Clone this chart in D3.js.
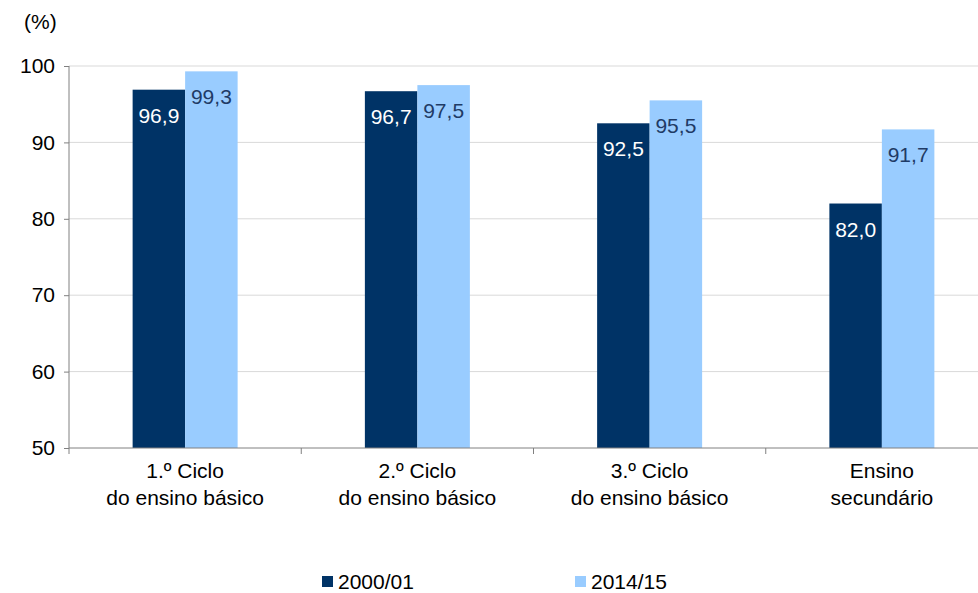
<!DOCTYPE html>
<meta charset="utf-8">
<head>
<style>
  body { margin: 0; background: #fff; }
  svg { display: block; font-family: "Liberation Sans", Arial, sans-serif; }
</style>
</head>
<body>
<script src="https://cdn.jsdelivr.net/npm/d3@7"></script>
<script>
// data
var categories = [["1.º Ciclo", "do ensino básico"], ["2.º Ciclo", "do ensino básico"], ["3.º Ciclo", "do ensino básico"], ["Ensino", "secundário"]];
var series = ["2000/01", "2014/15"];
var values2000 = [96.9, 96.7, 92.5, 82.0];
var values2014 = [99.3, 97.5, 95.5, 91.7];
var yTicks = [50, 60, 70, 80, 90, 100];

var colors = ["#003366", "#99ccff"];
var labelColors = ["#ffffff", "#1f3b66"];

var W = 978, H = 593;
var m = { left: 69, right: 998, top: 66, bottom: 448 };
var fs = "21px";

var svg = d3.select("body").append("svg")
    .attr("width", W)
    .attr("height", H);

var x = d3.scaleBand().domain(d3.range(categories.length)).range([m.left, m.right]);
var y = d3.scaleLinear().domain([50, 100]).range([m.bottom, m.top]);
var bw = 52.5;

// gridlines
svg.append("g").selectAll("line")
    .data(yTicks.slice(1))
    .enter().append("line")
    .attr("x1", m.left).attr("x2", m.right)
    .attr("y1", function(d) { return y(d); })
    .attr("y2", function(d) { return y(d); })
    .attr("stroke", "#d9d9d9")
    .attr("stroke-width", 1);

// bars
var data = [];
categories.forEach(function(c, i) {
    data.push({ i: i, s: 0, v: values2000[i] });
    data.push({ i: i, s: 1, v: values2014[i] });
});

function bx(d) {
    return x(d.i) + x.bandwidth() / 2 - bw + d.s * bw;
}

svg.append("g").selectAll("rect")
    .data(data)
    .enter().append("rect")
    .attr("x", bx)
    .attr("y", function(d) { return y(d.v); })
    .attr("width", bw)
    .attr("height", function(d) { return y(50) - y(d.v); })
    .attr("fill", function(d) { return colors[d.s]; });

svg.append("g").selectAll("text")
    .data(data)
    .enter().append("text")
    .attr("x", function(d) { return bx(d) + bw / 2; })
    .attr("y", function(d) { return y(d.v) + 33; })
    .attr("text-anchor", "middle")
    .style("font-size", fs)
    .attr("fill", function(d) { return labelColors[d.s]; })
    .text(function(d) { return d3.format(".1f")(d.v).replace(".", ","); });

// y axis
var yAxis = svg.append("g")
    .attr("transform", "translate(" + m.left + ",0)")
    .call(d3.axisLeft(y).tickValues(yTicks).tickSize(5).tickPadding(9));
yAxis.select(".domain").attr("stroke", "#808080").attr("d", "M0," + m.top + "V" + m.bottom);
yAxis.selectAll(".tick line").attr("stroke", "#808080");
yAxis.selectAll("text").style("font-size", fs).attr("fill", "#000");

// x axis
var xAxis = svg.append("g")
    .attr("transform", "translate(0," + m.bottom + ")");
xAxis.append("line")
    .attr("x1", m.left).attr("x2", m.right)
    .attr("stroke", "#808080");
xAxis.selectAll(".xt")
    .data(d3.range(categories.length + 1))
    .enter().append("line")
    .attr("x1", function(d) { return m.left + d * x.bandwidth(); })
    .attr("x2", function(d) { return m.left + d * x.bandwidth(); })
    .attr("y1", 0).attr("y2", 6)
    .attr("stroke", "#808080");

var xl = svg.append("g").selectAll("text")
    .data(categories)
    .enter().append("text")
    .attr("x", function(d, i) { return x(i) + x.bandwidth() / 2; })
    .attr("y", 478)
    .attr("text-anchor", "middle")
    .style("font-size", fs)
    .attr("fill", "#000");
xl.append("tspan").text(function(d) { return d[0]; });
xl.append("tspan")
    .attr("x", function(d, i) { return x(i) + x.bandwidth() / 2; })
    .attr("dy", 27)
    .text(function(d) { return d[1]; });

// unit label
svg.append("text")
    .attr("x", 24).attr("y", 29)
    .style("font-size", fs)
    .text("(%)");

// legend
var legendX = [322, 575];
var legend = svg.selectAll(".legend")
    .data(series)
    .enter().append("g")
    .attr("transform", function(d, i) { return "translate(" + legendX[i] + ",576)"; });
legend.append("rect")
    .attr("width", 11).attr("height", 11)
    .attr("fill", function(d, i) { return colors[i]; });
legend.append("text")
    .attr("x", 16).attr("y", 13)
    .style("font-size", fs)
    .text(function(d) { return d; });
</script>
</body>
